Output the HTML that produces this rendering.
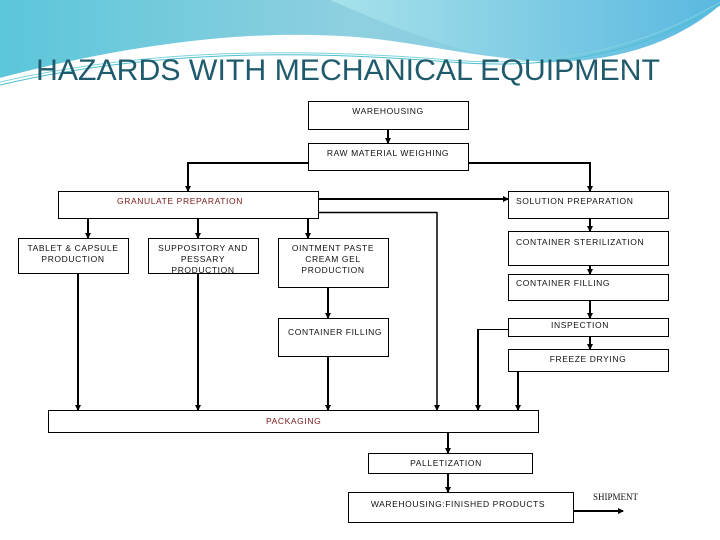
<!DOCTYPE html>
<html><head><meta charset="utf-8"><style>
html,body{margin:0;padding:0;background:#fff;}
svg{display:block;}
.t{font-family:"Liberation Sans",sans-serif;font-size:8.5px;fill:#111;letter-spacing:0.6px;}
</style></head><body>
<svg width="720" height="540" viewBox="0 0 720 540" xmlns="http://www.w3.org/2000/svg">
<defs>
<linearGradient id="g1" x1="0" y1="0" x2="1" y2="0">
<stop offset="0" stop-color="#5cc6da"/><stop offset="0.5" stop-color="#8fd0e0"/><stop offset="1" stop-color="#7cc8e8"/></linearGradient>
<linearGradient id="g2" x1="0" y1="0" x2="1" y2="0">
<stop offset="0" stop-color="#a8e2ea"/><stop offset="1" stop-color="#5ab8e0"/></linearGradient>
<marker id="a" markerWidth="6" markerHeight="6" refX="5" refY="3" orient="auto" markerUnits="userSpaceOnUse"><path d="M0,0 L6,3 L0,6 z" fill="#000"/></marker>
</defs>
<path d="M0,0 H720 V0 C690,30 640,55 560,60 C480,62 420,40 340,36 C240,32 120,48 0,80 Z" fill="url(#g1)"/>
<path d="M330,0 H720 V5 C680,40 620,62 550,62 C470,60 400,30 330,0 Z" fill="url(#g2)"/>
<path d="M0,80 C120,48 240,32 340,38 C420,44 480,64 560,64" stroke="#fff" stroke-width="4" fill="none"/>
<path d="M0,85 C150,50 300,50 450,62 C550,70 640,55 720,5" stroke="#4cbfd0" stroke-width="1" fill="none"/>
<path d="M0,82 C150,48 300,48 450,60 C550,68 640,50 720,2" stroke="#7dd3de" stroke-width="1" fill="none"/>
<text x="36" y="80" font-family="'Liberation Sans',sans-serif" font-size="29.5" fill="#1f5b6c" textLength="624" lengthAdjust="spacingAndGlyphs">HAZARDS WITH MECHANICAL EQUIPMENT</text>
<g fill="none" stroke="#000" stroke-width="1">
<rect x="308.5" y="101.5" width="160" height="28"/>
<rect x="308.5" y="143.5" width="160" height="27"/>
<rect x="58.5" y="191.5" width="260" height="27"/>
<rect x="508.5" y="191.5" width="160" height="27"/>
<rect x="18.5" y="238.5" width="110" height="35"/>
<rect x="148.5" y="238.5" width="110" height="35"/>
<rect x="278.5" y="238.5" width="110" height="49"/>
<rect x="508.5" y="231.5" width="160" height="34"/>
<rect x="508.5" y="274.5" width="160" height="26"/>
<rect x="508.5" y="318.5" width="160" height="18"/>
<rect x="508.5" y="349.5" width="160" height="22"/>
<rect x="278.5" y="318.5" width="110" height="38"/>
<rect x="48.5" y="410.5" width="490" height="22"/>
<rect x="368.5" y="453.5" width="164" height="20"/>
<rect x="348.5" y="492.5" width="225" height="30"/>
</g>
<g fill="none" stroke="#000" stroke-width="2" marker-end="url(#a)">
<path d="M388,129 V143"/>
<path d="M308,163 H188 V191"/>
<path d="M468,163 H590 V191"/>
<path d="M318,199 H508"/>
<path d="M88,218 V238"/><path d="M198,218 V238"/><path d="M308,218 V238"/>
<path d="M590,218 V231"/><path d="M590,265 V274"/><path d="M590,300 V318"/><path d="M590,336 V349"/>
<path d="M328,287 V318"/>
<path d="M78,273 V410"/><path d="M198,273 V410"/><path d="M328,356 V410"/>
<path d="M437,212 V410" stroke-width="1.5"/>
<path d="M478,329 V410"/>
<path d="M518,371 V410"/>
<path d="M448,432 V453"/><path d="M448,473 V492"/>
<path d="M573,511 H623"/>
</g>
<path d="M318,212.5 H437" stroke="#000" stroke-width="1.5" fill="none"/>
<path d="M508,329.5 H478" stroke="#000" stroke-width="1" fill="none"/>
<text class="t" x="388" y="114" text-anchor="middle">WAREHOUSING</text>
<text class="t" x="388" y="156" text-anchor="middle">RAW MATERIAL WEIGHING</text>
<text class="t" x="117" y="204" style="fill:#7a1a1a">GRANULATE PREPARATION</text>
<text class="t" x="516" y="204">SOLUTION PREPARATION</text>
<text class="t" x="73" y="251" text-anchor="middle">TABLET &amp; CAPSULE</text>
<text class="t" x="73" y="262" text-anchor="middle">PRODUCTION</text>
<text class="t" x="203" y="251" text-anchor="middle">SUPPOSITORY AND</text>
<text class="t" x="203" y="262" text-anchor="middle">PESSARY</text>
<text class="t" x="203" y="273" text-anchor="middle">PRODUCTION</text>
<text class="t" x="333" y="251" text-anchor="middle">OINTMENT PASTE</text>
<text class="t" x="333" y="262" text-anchor="middle">CREAM GEL</text>
<text class="t" x="333" y="273" text-anchor="middle">PRODUCTION</text>
<text class="t" x="516" y="245">CONTAINER STERILIZATION</text>
<text class="t" x="516" y="286">CONTAINER FILLING</text>
<text class="t" x="580" y="328" text-anchor="middle">INSPECTION</text>
<text class="t" x="588" y="362" text-anchor="middle">FREEZE DRYING</text>
<text class="t" x="288" y="335">CONTAINER FILLING</text>
<text class="t" x="266" y="424" style="fill:#7a1a1a">PACKAGING</text>
<text class="t" x="446" y="466" text-anchor="middle">PALLETIZATION</text>
<text class="t" x="458" y="507" text-anchor="middle">WAREHOUSING:FINISHED PRODUCTS</text>
<text x="593" y="500" font-family="'Liberation Serif',serif" font-size="9" fill="#111">SHIPMENT</text>
</svg>
</body></html>
